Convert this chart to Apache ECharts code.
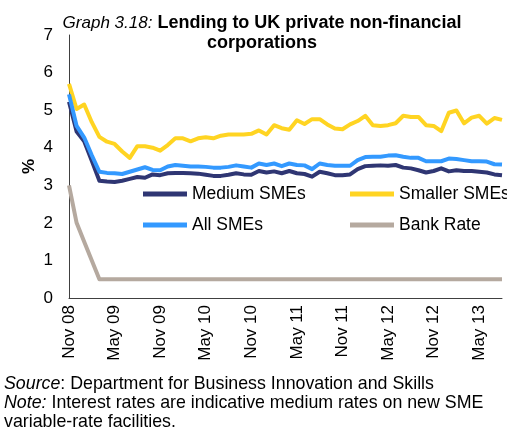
<!DOCTYPE html>
<html>
<head>
<meta charset="utf-8">
<script src="https://cdn.jsdelivr.net/npm/echarts@6/dist/echarts.min.js"></script>
<style>
  html, body { margin: 0; padding: 0; background: #fff; }
  #chart { width: 507px; height: 436px; }
</style>
</head>
<body>
<div id="chart"></div>
<script>
// Monthly observations, Nov 2008 to Aug 2013
const months = [
  'Nov 08','Dec 08','Jan 09','Feb 09','Mar 09','Apr 09','May 09','Jun 09','Jul 09','Aug 09','Sep 09','Oct 09',
  'Nov 09','Dec 09','Jan 10','Feb 10','Mar 10','Apr 10','May 10','Jun 10','Jul 10','Aug 10','Sep 10','Oct 10',
  'Nov 10','Dec 10','Jan 11','Feb 11','Mar 11','Apr 11','May 11','Jun 11','Jul 11','Aug 11','Sep 11','Oct 11',
  'Nov 11','Dec 11','Jan 12','Feb 12','Mar 12','Apr 12','May 12','Jun 12','Jul 12','Aug 12','Sep 12','Oct 12',
  'Nov 12','Dec 12','Jan 13','Feb 13','Mar 13','Apr 13','May 13','Jun 13','Jul 13','Aug 13'
];

// Indicative median interest rates, per cent
const mediumSMEs = [
  5.22, 4.43, 4.17, 3.65, 3.12, 3.10, 3.09, 3.12, 3.17, 3.22, 3.20, 3.29,
  3.27, 3.32, 3.33, 3.33, 3.32, 3.31, 3.28, 3.25, 3.25, 3.28, 3.32, 3.29,
  3.28, 3.38, 3.34, 3.37, 3.32, 3.38, 3.32, 3.30, 3.23, 3.36, 3.32, 3.27,
  3.27, 3.29, 3.43, 3.51, 3.52, 3.53, 3.52, 3.54, 3.47, 3.45, 3.40, 3.34,
  3.38, 3.45, 3.37, 3.40, 3.38, 3.38, 3.36, 3.34, 3.29, 3.27
];
const smallerSMEs = [
  5.70, 5.03, 5.15, 4.68, 4.29, 4.16, 4.10, 3.90, 3.73, 4.04, 4.04, 4.00,
  3.92, 4.07, 4.25, 4.25, 4.17, 4.25, 4.28, 4.25, 4.32, 4.35, 4.35, 4.35,
  4.37, 4.46, 4.35, 4.60, 4.52, 4.48, 4.73, 4.63, 4.76, 4.76, 4.62, 4.51,
  4.49, 4.62, 4.71, 4.85, 4.60, 4.58, 4.60, 4.65, 4.85, 4.82, 4.82, 4.60,
  4.58, 4.44, 4.93, 4.99, 4.65, 4.80, 4.85, 4.64, 4.79, 4.74
];
const allSMEs = [
  5.42, 4.58, 4.27, 3.80, 3.36, 3.33, 3.32, 3.30, 3.36, 3.42, 3.48, 3.41,
  3.40, 3.50, 3.54, 3.52, 3.50, 3.50, 3.49, 3.47, 3.47, 3.49, 3.53, 3.50,
  3.47, 3.58, 3.54, 3.58, 3.51, 3.58, 3.54, 3.53, 3.43, 3.58, 3.54, 3.52,
  3.52, 3.52, 3.67, 3.75, 3.76, 3.76, 3.79, 3.80, 3.76, 3.73, 3.73, 3.64,
  3.64, 3.64, 3.71, 3.70, 3.67, 3.64, 3.64, 3.63, 3.56, 3.55
];
const bankRate = [
  3.0, 2.0, 1.5, 1.0, 0.5, 0.5, 0.5, 0.5, 0.5, 0.5, 0.5, 0.5,
  0.5, 0.5, 0.5, 0.5, 0.5, 0.5, 0.5, 0.5, 0.5, 0.5, 0.5, 0.5,
  0.5, 0.5, 0.5, 0.5, 0.5, 0.5, 0.5, 0.5, 0.5, 0.5, 0.5, 0.5,
  0.5, 0.5, 0.5, 0.5, 0.5, 0.5, 0.5, 0.5, 0.5, 0.5, 0.5, 0.5,
  0.5, 0.5, 0.5, 0.5, 0.5, 0.5, 0.5, 0.5, 0.5, 0.5
];

const FONT = "'Liberation Sans', Arial, sans-serif";
const COLORS = {
  medium: '#2f3673',
  smaller: '#ffd422',
  all: '#3399ff',
  bank: '#b5a99f'
};

const chart = echarts.init(document.getElementById('chart'), null, { renderer: 'canvas' });

function lineSeries(name, data, color) {
  return {
    name: name,
    type: 'line',
    data: data,
    symbol: 'none',
    smooth: false,
    lineStyle: { color: color, width: 4, join: 'round' },
    itemStyle: { color: color },
    emphasis: { disabled: true }
  };
}

const legendText = { fontFamily: FONT, fontSize: 17.5, color: '#000' };

chart.setOption({
  animation: false,
  backgroundColor: '#fff',
  title: {
    left: 262,
    top: 13,
    padding: 0,
    textAlign: 'center',
    text: '{i|Graph 3.18:} {b|Lending to UK private non-financial}\n{b|corporations}',
    textStyle: {
      fontFamily: FONT,
      lineHeight: 20,
      rich: {
        i: { fontFamily: FONT, fontSize: 17, fontStyle: 'italic', fontWeight: 'normal', color: '#000', lineHeight: 20 },
        b: { fontFamily: FONT, fontSize: 18, fontWeight: 'bold', color: '#000', lineHeight: 20 }
      }
    }
  },
  legend: [
    {
      left: 143, top: 185, orient: 'vertical', itemGap: 13, padding: 0,
      itemWidth: 44, itemHeight: 5, icon: 'rect',
      data: ['Medium SMEs', 'All SMEs'],
      textStyle: legendText, selectedMode: false
    },
    {
      left: 350, top: 185, orient: 'vertical', itemGap: 13, padding: 0,
      itemWidth: 44, itemHeight: 5, icon: 'rect',
      data: ['Smaller SMEs', 'Bank Rate'],
      textStyle: legendText, selectedMode: false
    }
  ],
  grid: { left: 69, right: 5, top: 35, bottom: 138, containLabel: false },
  xAxis: {
    type: 'category',
    data: months,
    boundaryGap: false,
    axisLine: { show: true, lineStyle: { color: '#404040', width: 1 } },
    axisTick: { show: false },
    splitLine: { show: false },
    axisLabel: {
      interval: 5,
      rotate: 90,
      margin: 7,
      fontFamily: FONT,
      fontSize: 17,
      color: '#000'
    }
  },
  yAxis: {
    type: 'value',
    min: 0, max: 7, interval: 1,
    name: '%',
    nameLocation: 'middle',
    nameRotate: 90,
    nameGap: 31,
    nameMoveOverlap: false,
    nameTextStyle: { fontFamily: FONT, fontSize: 17, fontWeight: 'bold', color: '#000' },
    axisLine: { show: true, lineStyle: { color: '#404040', width: 1 } },
    axisTick: { show: false },
    splitLine: { show: false },
    axisLabel: { margin: 16, fontFamily: FONT, fontSize: 17, color: '#000' }
  },
  series: [
    lineSeries('Medium SMEs', mediumSMEs, COLORS.medium),
    lineSeries('Smaller SMEs', smallerSMEs, COLORS.smaller),
    lineSeries('All SMEs', allSMEs, COLORS.all),
    lineSeries('Bank Rate', bankRate, COLORS.bank)
  ],
  graphic: [
    {
      type: 'text',
      left: 4,
      top: 375,
      style: {
        text: '{i|Source}: Department for Business Innovation and Skills\n{i|Note:} Interest rates are indicative medium rates on new SME\nvariable-rate facilities.',
        fontFamily: FONT,
        fontSize: 17.8,
        lineHeight: 19,
        fill: '#000',
        rich: {
          i: { fontFamily: FONT, fontSize: 17.8, fontStyle: 'italic', lineHeight: 19, fill: '#000' }
        }
      }
    }
  ]
});
</script>
</body>
</html>
